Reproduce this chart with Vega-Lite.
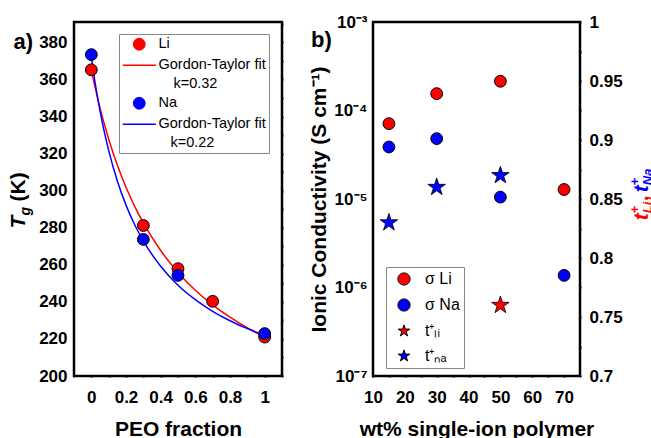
{
  "$schema": "https://vega.github.io/schema/vega-lite/v6.json",
  "padding": {"left": 6, "top": 11, "right": 0, "bottom": 0},
  "background": "white",
  "spacing": 21,
  "resolve": {"scale": {"color": "independent", "shape": "independent"}, "legend": {"color": "independent", "shape": "independent"}},
  "datasets": {
    "tg": [
      {"peo": 0, "tg": 365.2, "series": "Li"},
      {"peo": 0.3, "tg": 281.2, "series": "Li"},
      {"peo": 0.5, "tg": 257.9, "series": "Li"},
      {"peo": 0.7, "tg": 240.3, "series": "Li"},
      {"peo": 1, "tg": 221.0, "series": "Li"},
      {"peo": 0, "tg": 373.4, "series": "Na"},
      {"peo": 0.3, "tg": 273.7, "series": "Na"},
      {"peo": 0.5, "tg": 254.3, "series": "Na"},
      {"peo": 1, "tg": 222.9, "series": "Na"}
    ],
    "fit": [
      {"peo": 0, "tg": 365.0, "series": "GT-Li"},
      {"peo": 0.02, "tg": 356.4, "series": "GT-Li"},
      {"peo": 0.05, "tg": 344.7, "series": "GT-Li"},
      {"peo": 0.1, "tg": 327.9, "series": "GT-Li"},
      {"peo": 0.15, "tg": 313.8, "series": "GT-Li"},
      {"peo": 0.2, "tg": 301.8, "series": "GT-Li"},
      {"peo": 0.25, "tg": 291.5, "series": "GT-Li"},
      {"peo": 0.3, "tg": 282.6, "series": "GT-Li"},
      {"peo": 0.4, "tg": 267.7, "series": "GT-Li"},
      {"peo": 0.5, "tg": 255.9, "series": "GT-Li"},
      {"peo": 0.6, "tg": 246.3, "series": "GT-Li"},
      {"peo": 0.7, "tg": 238.4, "series": "GT-Li"},
      {"peo": 0.8, "tg": 231.7, "series": "GT-Li"},
      {"peo": 0.9, "tg": 225.9, "series": "GT-Li"},
      {"peo": 1, "tg": 221.0, "series": "GT-Li"},
      {"peo": 0, "tg": 372.0, "series": "GT-Na"},
      {"peo": 0.02, "tg": 359.3, "series": "GT-Na"},
      {"peo": 0.05, "tg": 343.0, "series": "GT-Na"},
      {"peo": 0.1, "tg": 321.7, "series": "GT-Na"},
      {"peo": 0.15, "tg": 305.2, "series": "GT-Na"},
      {"peo": 0.2, "tg": 292.2, "series": "GT-Na"},
      {"peo": 0.25, "tg": 281.6, "series": "GT-Na"},
      {"peo": 0.3, "tg": 272.9, "series": "GT-Na"},
      {"peo": 0.4, "tg": 259.2, "series": "GT-Na"},
      {"peo": 0.5, "tg": 249.0, "series": "GT-Na"},
      {"peo": 0.6, "tg": 241.2, "series": "GT-Na"},
      {"peo": 0.7, "tg": 234.9, "series": "GT-Na"},
      {"peo": 0.8, "tg": 229.8, "series": "GT-Na"},
      {"peo": 0.9, "tg": 225.6, "series": "GT-Na"},
      {"peo": 1, "tg": 222.0, "series": "GT-Na"}
    ],
    "sigma": [
      {"wt": 15, "sigma": 7.1e-5, "series": "sLi"},
      {"wt": 30, "sigma": 1.55e-4, "series": "sLi"},
      {"wt": 50, "sigma": 2.14e-4, "series": "sLi"},
      {"wt": 70, "sigma": 1.28e-5, "series": "sLi"},
      {"wt": 15, "sigma": 3.87e-5, "series": "sNa"},
      {"wt": 30, "sigma": 4.81e-5, "series": "sNa"},
      {"wt": 50, "sigma": 1.05e-5, "series": "sNa"},
      {"wt": 70, "sigma": 1.37e-6, "series": "sNa"}
    ],
    "tplus": [
      {"wt": 50, "t": 0.76, "series": "tLi"},
      {"wt": 15, "t": 0.83, "series": "tNa"},
      {"wt": 30, "t": 0.86, "series": "tNa"},
      {"wt": 50, "t": 0.87, "series": "tNa"}
    ]
  },
  "hconcat": [
    {
      "width": 208,
      "height": 354,
      "resolve": {"axis": {"x": "independent", "y": "independent"}},
      "layer": [
        {
          "data": {"name": "fit"},
          "mark": {"type": "line", "strokeWidth": 1.5, "interpolate": "monotone"},
          "encoding": {
            "x": {"field": "peo", "type": "quantitative", "scale": {"domain": [-0.1, 1.1], "nice": false, "zero": false},
                  "axis": {"orient": "top", "values": [0, 0.2, 0.4, 0.6, 0.8, 1], "ticks": true, "tickSize": 1, "labels": false, "title": null,
                           "encode": {"ticks": {"update": {"y2": {"value": 6}}}}}},
            "y": {"field": "tg", "type": "quantitative", "scale": {"domain": [200, 391], "nice": false, "zero": false},
                  "axis": {"orient": "right", "values": [200, 220, 240, 260, 280, 300, 320, 340, 360, 380], "ticks": true, "tickSize": 1, "labels": false, "title": null,
                           "encode": {"ticks": {"update": {"x2": {"value": -6}}}}}},
            "color": {"field": "series", "type": "nominal",
                      "scale": {"domain": ["Li", "GT-Li", "k-Li", "Na", "GT-Na", "k-Na"], "range": ["#ff0000", "#ff0000", "#ff0000", "#0000ff", "#0000ff", "#0000ff"]},
                      "legend": {
                        "orient": "none", "legendX": 45, "legendY": 12, "title": null,
                        "fillColor": "white", "strokeColor": "#888888", "padding": 3,
                        "labelFont": "Liberation Sans", "labelFontSize": 14.5, "labelColor": "black",
                        "symbolSize": 140, "rowPadding": 4, "labelOffset": 12, "symbolOffset": 10,
                        "labelExpr": "datum.value == 'GT-Li' || datum.value == 'GT-Na' ? 'Gordon-Taylor fit' : datum.value == 'k-Li' ? 'k=0.32' : datum.value == 'k-Na' ? 'k=0.22' : datum.label",
                        "encode": {
                          "labels": {"update": {"dx": {"signal": "datum.value == 'k-Li' ? 15 : datum.value == 'k-Na' ? 12 : 0"}}},
                          "symbols": {
                            "update": {
                              "shape": {"signal": "datum.value == 'GT-Li' || datum.value == 'GT-Na' ? 'stroke' : 'circle'"},
                              "size": {"signal": "datum.value == 'GT-Li' || datum.value == 'GT-Na' ? 1089 : 140"},
                              "stroke": {"signal": "datum.value == 'GT-Li' ? '#ff0000' : datum.value == 'GT-Na' ? '#0000ff' : 'black'"},
                              "strokeWidth": {"signal": "datum.value == 'GT-Li' || datum.value == 'GT-Na' ? 1.5 : 1"},
                              "fill": {"signal": "datum.value == 'Li' ? '#ff0000' : datum.value == 'Na' ? '#0000ff' : 'transparent'"},
                              "opacity": {"signal": "datum.value == 'k-Li' || datum.value == 'k-Na' ? 0 : 1"}
                            }
                          }
                        }
                      }}
          }
        },
        {
          "data": {"name": "tg"},
          "mark": {"type": "point", "filled": true, "shape": "circle", "size": 140, "stroke": "black", "strokeWidth": 1, "opacity": 1},
          "encoding": {
            "x": {"field": "peo", "type": "quantitative", "scale": {"domain": [-0.1, 1.1], "nice": false, "zero": false},
                  "axis": {"orient": "bottom", "values": [0, 0.2, 0.4, 0.6, 0.8, 1], "format": "~g", "ticks": true, "tickSize": 1, "labelPadding": 12, "labelFlush": false, "labelOverlap": false, "title": "PEO fraction", "titlePadding": 13,
                           "encode": {"ticks": {"update": {"y2": {"value": -6}}}}}},
            "y": {"field": "tg", "type": "quantitative", "scale": {"domain": [200, 391], "nice": false, "zero": false},
                  "axis": {"orient": "left", "values": [200, 220, 240, 260, 280, 300, 320, 340, 360, 380], "ticks": true, "tickSize": 1, "labelPadding": 6, "labelOverlap": false, "title": null,
                           "encode": {"ticks": {"update": {"x2": {"value": 6}}}}}},
            "color": {"field": "series", "type": "nominal",
                      "scale": {"domain": ["Li", "GT-Li", "k-Li", "Na", "GT-Na", "k-Na"], "range": ["#ff0000", "#ff0000", "#ff0000", "#0000ff", "#0000ff", "#0000ff"]},
                      "legend": {
                        "orient": "none", "legendX": 45, "legendY": 12, "title": null,
                        "fillColor": "white", "strokeColor": "#888888", "padding": 3,
                        "labelFont": "Liberation Sans", "labelFontSize": 14.5, "labelColor": "black",
                        "symbolSize": 140, "rowPadding": 4, "labelOffset": 12, "symbolOffset": 10,
                        "labelExpr": "datum.value == 'GT-Li' || datum.value == 'GT-Na' ? 'Gordon-Taylor fit' : datum.value == 'k-Li' ? 'k=0.32' : datum.value == 'k-Na' ? 'k=0.22' : datum.label",
                        "encode": {
                          "labels": {"update": {"dx": {"signal": "datum.value == 'k-Li' ? 15 : datum.value == 'k-Na' ? 12 : 0"}}},
                          "symbols": {
                            "update": {
                              "shape": {"signal": "datum.value == 'GT-Li' || datum.value == 'GT-Na' ? 'stroke' : 'circle'"},
                              "size": {"signal": "datum.value == 'GT-Li' || datum.value == 'GT-Na' ? 1089 : 140"},
                              "stroke": {"signal": "datum.value == 'GT-Li' ? '#ff0000' : datum.value == 'GT-Na' ? '#0000ff' : 'black'"},
                              "strokeWidth": {"signal": "datum.value == 'GT-Li' || datum.value == 'GT-Na' ? 1.5 : 1"},
                              "fill": {"signal": "datum.value == 'Li' ? '#ff0000' : datum.value == 'Na' ? '#0000ff' : 'transparent'"},
                              "opacity": {"signal": "datum.value == 'k-Li' || datum.value == 'k-Na' ? 0 : 1"}
                            }
                          }
                        }
                      }}
          }
        },
        {
          "data": {"values": [{}]},
          "mark": {"type": "text", "text": "a)", "fontSize": 22, "fontWeight": "bold", "font": "Liberation Sans", "align": "left", "baseline": "alphabetic", "color": "black"},
          "encoding": {
            "x": {"datum": -0.449, "type": "quantitative", "scale": {"domain": [-0.1, 1.1], "nice": false, "zero": false},
                  "axis": {"orient": "bottom", "values": [0.1, 0.3, 0.5, 0.7, 0.9], "ticks": true, "tickSize": 1, "labels": false, "title": null,
                           "encode": {"ticks": {"update": {"y2": {"value": -3.5}}}}}},
            "y": {"datum": 376.7, "type": "quantitative", "scale": {"domain": [200, 391], "nice": false, "zero": false},
                  "axis": {"orient": "left", "values": [210, 230, 250, 270, 290, 310, 330, 350, 370, 390], "ticks": true, "tickSize": 1, "labels": false, "title": null,
                           "encode": {"ticks": {"update": {"x2": {"value": 3.5}}}}}}
          }
        },
        {
          "data": {"values": [{}]},
          "mark": {"type": "text", "text": "T", "fontSize": 21, "fontWeight": "bold", "fontStyle": "italic", "font": "Liberation Sans", "align": "left", "baseline": "alphabetic", "angle": 270, "color": "black"},
          "encoding": {
            "x": {"datum": -0.385, "type": "quantitative", "scale": {"domain": [-0.1, 1.1], "nice": false, "zero": false},
                  "axis": {"orient": "top", "values": [0.1, 0.3, 0.5, 0.7, 0.9], "ticks": true, "tickSize": 1, "labels": false, "title": null,
                           "encode": {"ticks": {"update": {"y2": {"value": 3.5}}}}}},
            "y": {"datum": 279.6, "type": "quantitative", "scale": {"domain": [200, 391], "nice": false, "zero": false},
                  "axis": {"orient": "right", "values": [210, 230, 250, 270, 290, 310, 330, 350, 370, 390], "ticks": true, "tickSize": 1, "labels": false, "title": null,
                           "encode": {"ticks": {"update": {"x2": {"value": -3.5}}}}}}
          }
        },
        {
          "data": {"values": [{}]},
          "mark": {"type": "text", "text": "g", "fontSize": 14, "fontWeight": "bold", "fontStyle": "italic", "font": "Liberation Sans", "align": "left", "baseline": "alphabetic", "angle": 270, "dx": 13, "dy": 5, "color": "black"},
          "encoding": {
            "x": {"datum": -0.385, "type": "quantitative", "scale": {"domain": [-0.1, 1.1], "nice": false, "zero": false}, "axis": null},
            "y": {"datum": 279.6, "type": "quantitative", "scale": {"domain": [200, 391], "nice": false, "zero": false}, "axis": null}
          }
        },
        {
          "data": {"values": [{}]},
          "mark": {"type": "text", "text": "(K)", "fontSize": 21, "fontWeight": "bold", "font": "Liberation Sans", "align": "left", "baseline": "alphabetic", "angle": 270, "dx": 27, "color": "black"},
          "encoding": {
            "x": {"datum": -0.385, "type": "quantitative", "scale": {"domain": [-0.1, 1.1], "nice": false, "zero": false}, "axis": null},
            "y": {"datum": 279.6, "type": "quantitative", "scale": {"domain": [200, 391], "nice": false, "zero": false}, "axis": null}
          }
        }
      ]
    },
    {
      "width": 207,
      "height": 354,
      "resolve": {"scale": {"y": "independent"}, "axis": {"x": "independent", "y": "independent"}},
      "layer": [
        {
          "data": {"name": "sigma"},
          "mark": {"type": "point", "filled": true, "size": 140, "stroke": "black", "strokeWidth": 1, "opacity": 1},
          "encoding": {
            "x": {"field": "wt", "type": "quantitative", "scale": {"domain": [10, 75], "nice": false, "zero": false},
                  "axis": {"orient": "bottom", "values": [10, 20, 30, 40, 50, 60, 70], "format": "d", "ticks": true, "tickSize": 1, "labelPadding": 12, "labelFlush": false, "labelOverlap": false, "title": "wt% single-ion polymer", "titlePadding": 13,
                           "encode": {"ticks": {"update": {"y2": {"value": -6}}}}}},
            "y": {"field": "sigma", "type": "quantitative", "scale": {"type": "log", "domain": [1e-7, 1e-3], "nice": false},
                  "axis": {"orient": "left", "values": [1e-7, 1e-6, 1e-5, 1e-4, 1e-3], "ticks": true, "tickSize": 1, "labelPadding": 5, "labelOverlap": false,
                           "labelExpr": "datum.value < 2e-7 ? '10⁻⁷' : datum.value < 2e-6 ? '10⁻⁶' : datum.value < 2e-5 ? '10⁻⁵' : datum.value < 2e-4 ? '10⁻⁴' : '10⁻³'",
                           "title": "Ionic Conductivity (S cm⁻¹)", "titlePadding": 4,
                           "encode": {"ticks": {"update": {"x2": {"value": 6}}}}}},
            "color": {"field": "series", "type": "nominal",
                      "scale": {"domain": ["sLi", "sNa", "tLi", "tNa"], "range": ["#ff0000", "#0000ff", "#ff0000", "#0000ff"]},
                      "legend": {
                        "orient": "none", "legendX": 13, "legendY": 245, "title": null,
                        "fillColor": "white", "strokeColor": "#888888", "padding": 4,
                        "labelFont": "Liberation Sans", "labelFontSize": 16, "labelColor": "black",
                        "symbolSize": 150, "rowPadding": 8, "labelOffset": 13, "symbolOffset": 6,
                        "symbolStrokeColor": "black", "symbolStrokeWidth": 1,
                        "labelExpr": "datum.value == 'sLi' ? 'σ Li' : datum.value == 'sNa' ? 'σ Na' : datum.value == 'tLi' ? 't⁺ₗᵢ' : 't⁺ₙₐ'"
                      }},
            "shape": {"field": "series", "type": "nominal",
                      "scale": {"domain": ["sLi", "sNa", "tLi", "tNa"], "range": ["circle", "circle", "M0,-1L0.2245,-0.309L0.9511,-0.309L0.3633,0.118L0.5878,0.809L0,0.382L-0.5878,0.809L-0.3633,0.118L-0.9511,-0.309L-0.2245,-0.309Z", "M0,-1L0.2245,-0.309L0.9511,-0.309L0.3633,0.118L0.5878,0.809L0,0.382L-0.5878,0.809L-0.3633,0.118L-0.9511,-0.309L-0.2245,-0.309Z"]}}
          }
        },
        {
          "data": {"name": "tplus"},
          "mark": {"type": "point", "filled": true, "size": 340, "stroke": "black", "strokeWidth": 0.8, "opacity": 1},
          "encoding": {
            "x": {"field": "wt", "type": "quantitative", "scale": {"domain": [10, 75], "nice": false, "zero": false},
                  "axis": {"orient": "top", "values": [10, 20, 30, 40, 50, 60, 70], "ticks": true, "tickSize": 1, "labels": false, "title": null,
                           "encode": {"ticks": {"update": {"y2": {"value": 6}}}}}},
            "y": {"field": "t", "type": "quantitative", "scale": {"domain": [0.7, 1], "nice": false, "zero": false},
                  "axis": {"orient": "right", "values": [0.7, 0.75, 0.8, 0.85, 0.9, 0.95, 1], "format": "~g", "ticks": true, "tickSize": 1, "labelPadding": 8, "labelOverlap": false, "title": null,
                           "encode": {"ticks": {"update": {"x2": {"value": -6}}}}}},
            "color": {"field": "series", "type": "nominal",
                      "scale": {"domain": ["sLi", "sNa", "tLi", "tNa"], "range": ["#ff0000", "#0000ff", "#ff0000", "#0000ff"]}},
            "shape": {"field": "series", "type": "nominal",
                      "scale": {"domain": ["sLi", "sNa", "tLi", "tNa"], "range": ["circle", "circle", "M0,-1L0.2245,-0.309L0.9511,-0.309L0.3633,0.118L0.5878,0.809L0,0.382L-0.5878,0.809L-0.3633,0.118L-0.9511,-0.309L-0.2245,-0.309Z", "M0,-1L0.2245,-0.309L0.9511,-0.309L0.3633,0.118L0.5878,0.809L0,0.382L-0.5878,0.809L-0.3633,0.118L-0.9511,-0.309L-0.2245,-0.309Z"]}}
          }
        },
        {
          "data": {"values": [{}]},
          "mark": {"type": "text", "text": "b)", "fontSize": 22, "fontWeight": "bold", "font": "Liberation Sans", "align": "left", "baseline": "alphabetic", "color": "black"},
          "encoding": {
            "x": {"datum": -9.47, "type": "quantitative", "scale": {"domain": [10, 75], "nice": false, "zero": false},
                  "axis": {"orient": "bottom", "values": [15, 25, 35, 45, 55, 65], "ticks": true, "tickSize": 1, "labels": false, "title": null,
                           "encode": {"ticks": {"update": {"y2": {"value": -3.5}}}}}},
            "y": {"datum": 5.18e-4, "type": "quantitative", "scale": {"type": "log", "domain": [1e-7, 1e-3], "nice": false},
                  "axis": {"orient": "left", "values": [2e-7, 3e-7, 4e-7, 5e-7, 6e-7, 7e-7, 8e-7, 9e-7, 2e-6, 3e-6, 4e-6, 5e-6, 6e-6, 7e-6, 8e-6, 9e-6, 2e-5, 3e-5, 4e-5, 5e-5, 6e-5, 7e-5, 8e-5, 9e-5, 2e-4, 3e-4, 4e-4, 5e-4, 6e-4, 7e-4, 8e-4, 9e-4], "ticks": true, "tickSize": 1, "labels": false, "title": null,
                           "encode": {"ticks": {"update": {"x2": {"value": 3.5}}}}}}
          }
        },
        {
          "data": {"values": [{}]},
          "mark": {"type": "text", "text": "t", "fontSize": 21, "fontWeight": "bold", "fontStyle": "italic", "font": "Liberation Sans", "align": "left", "baseline": "alphabetic", "angle": 270, "color": "#ff0000"},
          "encoding": {
            "x": {"datum": 96.3, "type": "quantitative", "scale": {"domain": [10, 75], "nice": false, "zero": false},
                  "axis": {"orient": "top", "values": [15, 25, 35, 45, 55, 65], "ticks": true, "tickSize": 1, "labels": false, "title": null,
                           "encode": {"ticks": {"update": {"y2": {"value": 3.5}}}}}},
            "y": {"datum": 0.832, "type": "quantitative", "scale": {"domain": [0.7, 1], "nice": false, "zero": false},
                  "axis": {"orient": "right", "values": [0.725, 0.775, 0.825, 0.875, 0.925, 0.975], "ticks": true, "tickSize": 1, "labels": false, "title": null,
                           "encode": {"ticks": {"update": {"x2": {"value": -3.5}}}}}}
          }
        },
        {
          "data": {"values": [{}]},
          "mark": {"type": "text", "text": "+", "fontSize": 13, "fontWeight": "bold", "font": "Liberation Sans", "align": "left", "baseline": "alphabetic", "angle": 270, "dx": 7, "dy": -9, "color": "#ff0000"},
          "encoding": {
            "x": {"datum": 96.3, "type": "quantitative", "scale": {"domain": [10, 75], "nice": false, "zero": false}, "axis": null},
            "y": {"datum": 0.832, "type": "quantitative", "scale": {"domain": [0.7, 1], "nice": false, "zero": false}, "axis": null}
          }
        },
        {
          "data": {"values": [{}]},
          "mark": {"type": "text", "text": "Li", "fontSize": 13, "fontWeight": "bold", "fontStyle": "italic", "font": "Liberation Sans", "align": "left", "baseline": "alphabetic", "angle": 270, "dx": 7, "dy": 4, "color": "#ff0000"},
          "encoding": {
            "x": {"datum": 96.3, "type": "quantitative", "scale": {"domain": [10, 75], "nice": false, "zero": false}, "axis": null},
            "y": {"datum": 0.832, "type": "quantitative", "scale": {"domain": [0.7, 1], "nice": false, "zero": false}, "axis": null}
          }
        },
        {
          "data": {"values": [{}]},
          "mark": {"type": "text", "text": ",", "fontSize": 21, "fontWeight": "bold", "font": "Liberation Sans", "align": "left", "baseline": "alphabetic", "angle": 270, "dx": 19, "color": "#ff0000"},
          "encoding": {
            "x": {"datum": 96.3, "type": "quantitative", "scale": {"domain": [10, 75], "nice": false, "zero": false}, "axis": null},
            "y": {"datum": 0.832, "type": "quantitative", "scale": {"domain": [0.7, 1], "nice": false, "zero": false}, "axis": null}
          }
        },
        {
          "data": {"values": [{}]},
          "mark": {"type": "text", "text": "t", "fontSize": 21, "fontWeight": "bold", "fontStyle": "italic", "font": "Liberation Sans", "align": "left", "baseline": "alphabetic", "angle": 270, "dx": 28, "color": "#0000ff"},
          "encoding": {
            "x": {"datum": 96.3, "type": "quantitative", "scale": {"domain": [10, 75], "nice": false, "zero": false}, "axis": null},
            "y": {"datum": 0.832, "type": "quantitative", "scale": {"domain": [0.7, 1], "nice": false, "zero": false}, "axis": null}
          }
        },
        {
          "data": {"values": [{}]},
          "mark": {"type": "text", "text": "+", "fontSize": 13, "fontWeight": "bold", "font": "Liberation Sans", "align": "left", "baseline": "alphabetic", "angle": 270, "dx": 35, "dy": -9, "color": "#0000ff"},
          "encoding": {
            "x": {"datum": 96.3, "type": "quantitative", "scale": {"domain": [10, 75], "nice": false, "zero": false}, "axis": null},
            "y": {"datum": 0.832, "type": "quantitative", "scale": {"domain": [0.7, 1], "nice": false, "zero": false}, "axis": null}
          }
        },
        {
          "data": {"values": [{}]},
          "mark": {"type": "text", "text": "Na", "fontSize": 13, "fontWeight": "bold", "fontStyle": "italic", "font": "Liberation Sans", "align": "left", "baseline": "alphabetic", "angle": 270, "dx": 35, "dy": 4, "color": "#0000ff"},
          "encoding": {
            "x": {"datum": 96.3, "type": "quantitative", "scale": {"domain": [10, 75], "nice": false, "zero": false}, "axis": null},
            "y": {"datum": 0.832, "type": "quantitative", "scale": {"domain": [0.7, 1], "nice": false, "zero": false}, "axis": null}
          }
        }
      ]
    }
  ],
  "config": {
    "font": "Liberation Sans",
    "view": {"stroke": "black", "strokeWidth": 2.5},
    "axis": {
      "domain": false, "grid": false, "ticks": true, "tickColor": "black", "tickWidth": 2, "tickOpacity": 1, "zindex": 1,
      "labelFont": "Liberation Sans", "labelFontWeight": "bold", "labelFontSize": 17, "labelColor": "black",
      "titleFont": "Liberation Sans", "titleFontWeight": "bold", "titleFontSize": 21, "titleColor": "black"
    },
    "legend": {"labelFont": "Liberation Sans", "labelColor": "black"}
  }
}
